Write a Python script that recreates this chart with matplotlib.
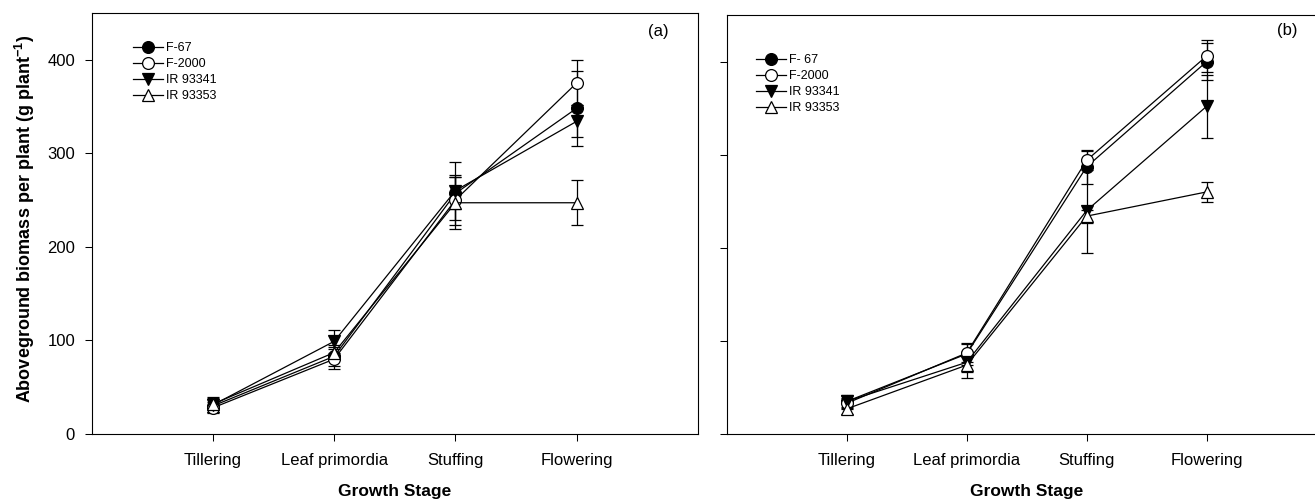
import matplotlib
matplotlib.use("Agg")
import matplotlib.pyplot as plt

plt.rcParams['font.family'] = ['Liberation Sans', 'DejaVu Sans']
plt.rcParams['mathtext.fontset'] = 'custom'
plt.rcParams['mathtext.rm'] = 'Liberation Sans'
plt.rcParams['mathtext.bf'] = 'Liberation Sans:bold'

# Growth stages on the x axis
stages = ['Tillering', 'Leaf primordia', 'Stuffing', 'Flowering']
stage_pos = [1, 2, 3, 4]

# Panel (a): biomass means and standard errors
a_f67 = [30, 83, 257, 348]
a_f67_err = [7, 10, 17, 40]
a_f2000 = [28, 80, 250, 375]
a_f2000_err = [6, 11, 27, 24]
a_ir93341 = [31, 99, 260, 334]
a_ir93341_err = [7, 12, 31, 17]
a_ir93353 = [32, 87, 247, 247]
a_ir93353_err = [8, 8, 28, 24]

# Panel (b): biomass means and standard errors
b_f67 = [35, 86, 287, 400]
b_f67_err = [7, 12, 18, 20]
b_f2000 = [33, 87, 294, 406]
b_f2000_err = [6, 10, 10, 17]
b_ir93341 = [35, 77, 240, 352]
b_ir93341_err = [6, 10, 46, 34]
b_ir93353 = [27, 74, 234, 260]
b_ir93353_err = [6, 14, 7, 11]

labels_a = ['F-67', 'F-2000', 'IR 93341', 'IR 93353']
labels_b = ['F- 67', 'F-2000', 'IR 93341', 'IR 93353']

styles = [
    dict(marker='o', mfc='black'),
    dict(marker='o', mfc='white'),
    dict(marker='v', mfc='black'),
    dict(marker='^', mfc='white'),
]

fig = plt.figure(figsize=(13.15, 5.01), dpi=100)
ax_a = fig.add_axes([0.06973, 0.13373, 0.46106, 0.84092])
ax_b = fig.add_axes([0.55262, 0.13373, 0.45627, 0.83633])


def draw_panel(ax, series, errors, labels, tag, tag_xy, leg_xy, show_ylabels):
    handles = []
    for vals, errs, st, lab in zip(series, errors, styles, labels):
        ax.errorbar(stage_pos, vals, yerr=errs, fmt='none', ecolor='black',
                    elinewidth=0.9, capsize=4.4, capthick=0.9, zorder=2)
        h, = ax.plot(stage_pos, vals, color='black', lw=0.9, marker=st['marker'],
                     mfc=st['mfc'], mec='black', mew=0.9, ms=8.5, zorder=3,
                     label=lab)
        handles.append(h)
    ax.set_xlim(0, 5)
    ax.set_ylim(0, 450)
    ax.set_xticks(stage_pos)
    ax.set_xticklabels(stages, fontsize=12)
    ax.set_yticks([0, 100, 200, 300, 400])
    if not show_ylabels:
        ax.set_yticklabels([])
    ax.tick_params(direction='out', length=5, width=0.75, labelsize=12)
    ax.tick_params(axis='x', pad=8.5)
    ax.tick_params(axis='y', pad=7)
    for sp in ax.spines.values():
        sp.set_linewidth(0.8)
    ax.set_xlabel('Growth Stage', fontsize=12.5, fontweight='bold', labelpad=12)
    ax.text(tag_xy[0], tag_xy[1], tag, transform=ax.transAxes, fontsize=12,
            ha='center', va='center')
    ax.legend(handles=handles, loc='upper left', bbox_to_anchor=leg_xy,
              frameon=False, fontsize=9, handlelength=2.4, handletextpad=0.25,
              labelspacing=0.32, borderpad=0, borderaxespad=0)


draw_panel(ax_a,
           [a_f67, a_f2000, a_ir93341, a_ir93353],
           [a_f67_err, a_f2000_err, a_ir93341_err, a_ir93353_err],
           labels_a, '(a)', (0.934, 0.956), (0.068, 0.930), True)
draw_panel(ax_b,
           [b_f67, b_f2000, b_ir93341, b_ir93353],
           [b_f67_err, b_f2000_err, b_ir93341_err, b_ir93353_err],
           labels_b, '(b)', (0.9347, 0.9625), (0.049, 0.906), False)

fig.text(24.5 / 1315, 1 - 218.5 / 501,
         'Aboveground biomass per plant (g plant$^{\\mathbf{-1}}$)',
         rotation=90, ha='center', va='center', fontsize=13, fontweight='bold')

fig.savefig('out.png', dpi=100)
